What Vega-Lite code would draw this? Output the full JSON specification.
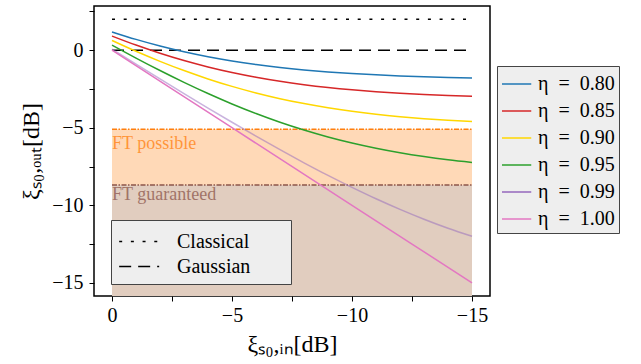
{
  "$schema": "https://vega.github.io/schema/vega-lite/v6.json",
  "width": 396,
  "height": 290,
  "autosize": {"type": "none"},
  "padding": {"left": 94, "top": 6, "right": 151, "bottom": 68},
  "config": {
    "font": "Liberation Serif",
    "view": {"stroke": "black", "strokeWidth": 1.5},
    "axis": {
      "domain": false, "grid": false, "tickColor": "black", "tickSize": 5, "tickWidth": 1,
      "labelFont": "Liberation Serif", "labelFontSize": 20, "labelColor": "black",
      "titleFont": "Liberation Serif", "titleFontSize": 24, "titleFontWeight": "normal", "titleColor": "black"
    }
  },
  "datasets": {
    "curves": [
      {"eta": "η = 0.80", "x": 0, "y": 1.179}, {"eta": "η = 0.80", "x": -1, "y": 0.696}, {"eta": "η = 0.80", "x": -2, "y": 0.269}, {"eta": "η = 0.80", "x": -3, "y": -0.102}, {"eta": "η = 0.80", "x": -4, "y": -0.422}, {"eta": "η = 0.80", "x": -5, "y": -0.693}, {"eta": "η = 0.80", "x": -6, "y": -0.921}, {"eta": "η = 0.80", "x": -7, "y": -1.112}, {"eta": "η = 0.80", "x": -8, "y": -1.27}, {"eta": "η = 0.80", "x": -9, "y": -1.399}, {"eta": "η = 0.80", "x": -10, "y": -1.505}, {"eta": "η = 0.80", "x": -11, "y": -1.591}, {"eta": "η = 0.80", "x": -12, "y": -1.66}, {"eta": "η = 0.80", "x": -13, "y": -1.716}, {"eta": "η = 0.80", "x": -14, "y": -1.761}, {"eta": "η = 0.80", "x": -15, "y": -1.796},
      {"eta": "η = 0.85", "x": 0, "y": 0.913}, {"eta": "η = 0.85", "x": -1, "y": 0.33}, {"eta": "η = 0.85", "x": -2, "y": -0.196}, {"eta": "η = 0.85", "x": -3, "y": -0.666}, {"eta": "η = 0.85", "x": -4, "y": -1.078}, {"eta": "η = 0.85", "x": -5, "y": -1.436}, {"eta": "η = 0.85", "x": -6, "y": -1.743}, {"eta": "η = 0.85", "x": -7, "y": -2.004}, {"eta": "η = 0.85", "x": -8, "y": -2.222}, {"eta": "η = 0.85", "x": -9, "y": -2.404}, {"eta": "η = 0.85", "x": -10, "y": -2.554}, {"eta": "η = 0.85", "x": -11, "y": -2.677}, {"eta": "η = 0.85", "x": -12, "y": -2.778}, {"eta": "η = 0.85", "x": -13, "y": -2.859}, {"eta": "η = 0.85", "x": -14, "y": -2.924}, {"eta": "η = 0.85", "x": -15, "y": -2.977},
      {"eta": "η = 0.90", "x": 0, "y": 0.63}, {"eta": "η = 0.90", "x": -1, "y": -0.07}, {"eta": "η = 0.90", "x": -2, "y": -0.719}, {"eta": "η = 0.90", "x": -3, "y": -1.314}, {"eta": "η = 0.90", "x": -4, "y": -1.852}, {"eta": "η = 0.90", "x": -5, "y": -2.333}, {"eta": "η = 0.90", "x": -6, "y": -2.757}, {"eta": "η = 0.90", "x": -7, "y": -3.126}, {"eta": "η = 0.90", "x": -8, "y": -3.443}, {"eta": "η = 0.90", "x": -9, "y": -3.714}, {"eta": "η = 0.90", "x": -10, "y": -3.941}, {"eta": "η = 0.90", "x": -11, "y": -4.13}, {"eta": "η = 0.90", "x": -12, "y": -4.285}, {"eta": "η = 0.90", "x": -13, "y": -4.414}, {"eta": "η = 0.90", "x": -14, "y": -4.519}, {"eta": "η = 0.90", "x": -15, "y": -4.603},
      {"eta": "η = 0.95", "x": 0, "y": 0.326}, {"eta": "η = 0.95", "x": -1, "y": -0.51}, {"eta": "η = 0.95", "x": -2, "y": -1.312}, {"eta": "η = 0.95", "x": -3, "y": -2.075}, {"eta": "η = 0.95", "x": -4, "y": -2.794}, {"eta": "η = 0.95", "x": -5, "y": -3.465}, {"eta": "η = 0.95", "x": -6, "y": -4.083}, {"eta": "η = 0.95", "x": -7, "y": -4.646}, {"eta": "η = 0.95", "x": -8, "y": -5.15}, {"eta": "η = 0.95", "x": -9, "y": -5.598}, {"eta": "η = 0.95", "x": -10, "y": -5.989}, {"eta": "η = 0.95", "x": -11, "y": -6.326}, {"eta": "η = 0.95", "x": -12, "y": -6.617}, {"eta": "η = 0.95", "x": -13, "y": -6.861}, {"eta": "η = 0.95", "x": -14, "y": -7.066}, {"eta": "η = 0.95", "x": -15, "y": -7.235},
      {"eta": "η = 0.99", "x": 0, "y": 0.067}, {"eta": "η = 0.99", "x": -1, "y": -0.898}, {"eta": "η = 0.99", "x": -2, "y": -1.853}, {"eta": "η = 0.99", "x": -3, "y": -2.798}, {"eta": "η = 0.99", "x": -4, "y": -3.731}, {"eta": "η = 0.99", "x": -5, "y": -4.647}, {"eta": "η = 0.99", "x": -6, "y": -5.543}, {"eta": "η = 0.99", "x": -7, "y": -6.417}, {"eta": "η = 0.99", "x": -8, "y": -7.261}, {"eta": "η = 0.99", "x": -9, "y": -8.074}, {"eta": "η = 0.99", "x": -10, "y": -8.847}, {"eta": "η = 0.99", "x": -11, "y": -9.582}, {"eta": "η = 0.99", "x": -12, "y": -10.264}, {"eta": "η = 0.99", "x": -13, "y": -10.899}, {"eta": "η = 0.99", "x": -14, "y": -11.481}, {"eta": "η = 0.99", "x": -15, "y": -12.0},
      {"eta": "η = 1.00", "x": 0, "y": 0}, {"eta": "η = 1.00", "x": -5, "y": -5}, {"eta": "η = 1.00", "x": -10, "y": -10}, {"eta": "η = 1.00", "x": -15, "y": -15}
    ],
    "refs": [
      {"kind": "Classical", "x": 0, "y": 2}, {"kind": "Classical", "x": -15, "y": 2},
      {"kind": "Gaussian", "x": 0, "y": 0}, {"kind": "Gaussian", "x": -15, "y": 0}
    ]
  },
  "encoding": {
    "x": {"field": "x", "type": "quantitative", "title": "ξₛ₀,ᵢₙ[dB]",
      "scale": {"domain": [0.75, -15.75], "nice": false, "zero": false},
      "axis": {"values": [0, -2.5, -5, -7.5, -10, -12.5, -15], "format": "d", "labelExpr": "datum.value % 5 === 0 ? datum.label : ''", "labelPadding": 4, "titlePadding": 7}},
    "y": {"field": "y", "type": "quantitative", "title": "ξₛ₀,ₒᵤₜ[dB]",
      "scale": {"domain": [-15.85, 2.85], "nice": false, "zero": false},
      "axis": {"values": [2.5, 0, -2.5, -5, -7.5, -10, -12.5, -15], "format": "d", "labelExpr": "datum.value % 5 === 0 ? datum.label : ''", "labelPadding": 6, "titlePadding": 8}}
  },
  "layer": [
    {"data": {"values": [{"x": 0, "x2": -15, "y": -5.1, "y2": -8.7}]}, "mark": {"type": "rect", "color": "#ffd9b7"}, "encoding": {"x2": {"field": "x2"}, "y2": {"field": "y2"}}},
    {"data": {"values": [{"x": 0, "x2": -15, "y": -8.7, "y2": -15.85}]}, "mark": {"type": "rect", "color": "#e1cdbf"}, "encoding": {"x2": {"field": "x2"}, "y2": {"field": "y2"}}},
    {"data": {"values": [{"x": 0, "x2": -15, "y": -5.1}]}, "mark": {"type": "rule", "color": "#ff7f0e", "strokeWidth": 1.5, "strokeDash": [5, 1.5, 1.5, 1.5]}, "encoding": {"x2": {"field": "x2"}}},
    {"data": {"values": [{"x": 0, "x2": -15, "y": -8.7}]}, "mark": {"type": "rule", "color": "#8c564b", "strokeWidth": 1.5, "strokeDash": [5, 1.5, 1.5, 1.5]}, "encoding": {"x2": {"field": "x2"}}},
    {"data": {"values": [{"x": 0, "y": -6.34, "label": "FT possible"}]}, "mark": {"type": "text", "align": "left", "baseline": "alphabetic", "fontSize": 18, "color": "#ff7f0e", "opacity": 0.75}, "encoding": {"text": {"field": "label"}}},
    {"data": {"values": [{"x": 0, "y": -9.67, "label": "FT guaranteed"}]}, "mark": {"type": "text", "align": "left", "baseline": "alphabetic", "fontSize": 18, "color": "#8c564b", "opacity": 0.75}, "encoding": {"text": {"field": "label"}}},
    {"data": {"name": "refs"}, "mark": {"type": "line", "color": "black", "strokeWidth": 1.6},
      "encoding": {"strokeDash": {"field": "kind", "type": "nominal",
        "scale": {"domain": ["Classical", "Gaussian"], "range": [[3, 8.7], [12, 7]]},
        "legend": {"title": "Gaussian", "titleOrient": "right", "titleFontSize": 8, "titlePadding": 2, "titleOpacity": 0, "orient": "none", "legendX": 17, "legendY": 214, "fillColor": "#eeeeee", "strokeColor": "#444444", "padding": 7, "labelFontSize": 20, "labelFont": "Liberation Serif", "labelColor": "black", "symbolType": "M-1,0H2", "symbolSize": 711, "symbolStrokeWidth": 1.6, "symbolStrokeColor": "black", "labelOffset": 30, "rowPadding": 0, "cornerRadius": 0}}}},
    {"data": {"name": "curves"}, "mark": {"type": "line", "strokeWidth": 1.5, "interpolate": "monotone"},
      "encoding": {
        "color": {"field": "eta", "type": "nominal",
          "scale": {"domain": ["η = 0.80", "η = 0.85", "η = 0.90", "η = 0.95", "η = 0.99", "η = 1.00"], "range": ["#1f77b4", "#d62728", "#ffd700", "#2ca02c", "#9467bd", "#e377c2"]},
          "legend": {"title": null, "orient": "none", "legendX": 403, "legendY": 60, "fillColor": "#eeeeee", "strokeColor": "#444444", "padding": 4, "labelFontSize": 20, "labelFont": "Liberation Serif", "labelColor": "black", "symbolType": "M-1,0H1.25", "symbolSize": 676, "symbolStrokeWidth": 1.5, "labelOffset": 9, "rowPadding": 3, "cornerRadius": 0, "labelExpr": "'η\u2002=\u2002' + substring(datum.label, 4)"}},
        "opacity": {"condition": {"test": "datum.eta === 'η = 0.99'", "value": 0.5}, "value": 1}
      }}
  ]
}
